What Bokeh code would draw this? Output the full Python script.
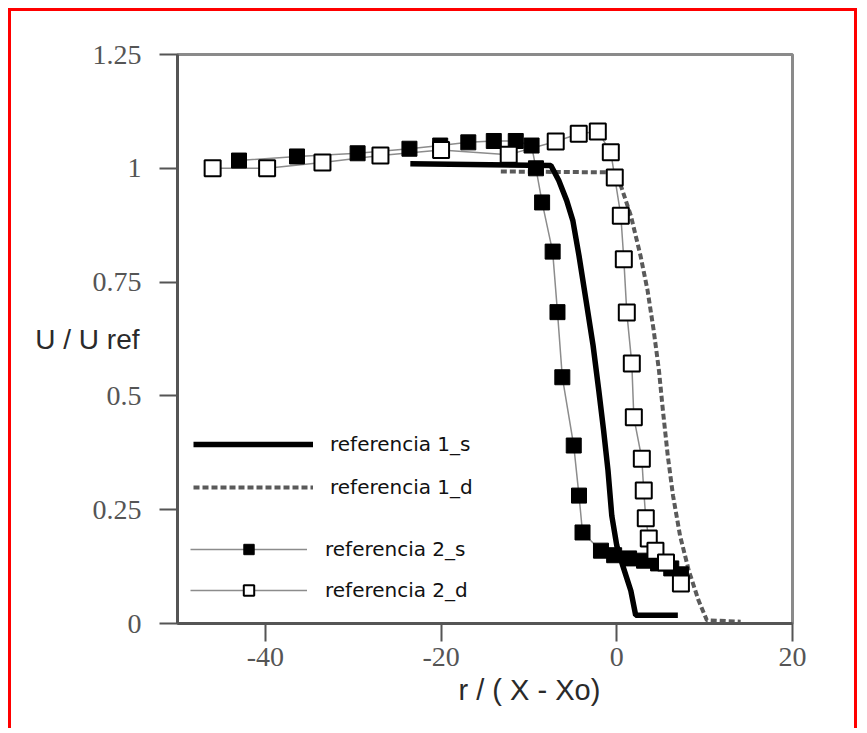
from bokeh.plotting import figure
from bokeh.models import FixedTicker, Legend, LegendItem, Range1d, Title
from bokeh.embed import file_html
from bokeh.resources import INLINE

# ---------------- data ----------------
ref1_s_x = [-23.5, -7.5, -6.6, -5.7, -5.0, -4.3, -3.5, -2.7, -2.05, -1.5, -1.0, -0.57, 0.0, 0.68, 1.6, 2.15, 6.95]
ref1_s_y = [1.01, 1.006, 0.973, 0.929, 0.885, 0.808, 0.71, 0.611, 0.512, 0.424, 0.336, 0.237, 0.171, 0.127, 0.072, 0.018, 0.018]

ref1_d_x = [-13.2, -0.46, 0.46, 1.6, 2.7, 3.5, 4.2, 4.8, 5.25, 5.8, 6.4, 7.2, 8.2, 9.3, 10.25, 14.1]
ref1_d_y = [0.993, 0.991, 0.962, 0.896, 0.808, 0.732, 0.644, 0.556, 0.468, 0.369, 0.281, 0.193, 0.116, 0.051, 0.007, 0.004]

ref2_s_x = [-43.0, -36.4, -29.5, -23.6, -20.1, -16.9, -14.0, -11.5, -9.7, -9.2, -8.5, -7.3,
            -6.75, -6.2, -4.9, -4.3, -3.9, -1.8, -0.3, 1.4, 3.1, 4.7, 6.2, 7.3]
ref2_s_y = [1.017, 1.026, 1.033, 1.043, 1.05, 1.057, 1.06, 1.06, 1.05, 1.0, 0.925, 0.817,
            0.684, 0.541, 0.391, 0.281, 0.20, 0.16, 0.15, 0.143, 0.138, 0.132, 0.121, 0.108]

ref2_d_x = [-46.0, -39.8, -33.5, -26.9, -20.0, -12.3, -6.95, -4.33, -2.16, -0.68, -0.23, 0.46,
            0.8, 1.14, 1.71, 1.94, 2.85, 3.07, 3.3, 3.64, 4.4, 5.6, 7.3]
ref2_d_y = [1.0, 1.0, 1.013, 1.028, 1.04, 1.03, 1.059, 1.076, 1.081, 1.035, 0.98, 0.896,
            0.80, 0.683, 0.571, 0.453, 0.362, 0.292, 0.231, 0.187, 0.16, 0.134, 0.088]

x_ticks = [-40, -20, 0, 20]
x_tick_labels = ["-40", "-20", "0", "20"]
y_ticks = [0, 0.25, 0.5, 0.75, 1, 1.25]
y_tick_labels = ["0", "0.25", "0.5", "0.75", "1", "1.25"]

labels = ["referencia 1_s", "referencia 1_d", "referencia 2_s", "referencia 2_d"]
x_title = "r / ( X - Xo)"
y_title = "U / U ref"

# ---------------- figure ----------------
p = figure(width=849, height=720, x_range=Range1d(-50, 20), y_range=Range1d(0, 1.25),
           output_backend="svg", toolbar_location=None,
           min_border_left=166, min_border_right=68, min_border_top=43, min_border_bottom=108)
p.margin = (8, 0, 0, 8)
p.styles = {"border-left": "3px solid #ff0000", "border-top": "3px solid #ff0000",
            "border-right": "3px solid #ff0000"}
p.background_fill_color = "white"
p.border_fill_color = "white"
p.xgrid.visible = False
p.ygrid.visible = False
p.outline_line_color = "#8a8a8a"
p.outline_line_width = 3

for ax in (p.xaxis[0], p.yaxis[0]):
    ax.axis_line_color = "#555555"
    ax.axis_line_width = 3
    ax.major_tick_line_color = "#555555"
    ax.major_tick_line_width = 2
    ax.major_tick_out = 18
    ax.major_tick_in = 0
    ax.minor_tick_out = 0
    ax.minor_tick_in = 0
    ax.major_label_text_font = "Liberation Serif"
    ax.major_label_text_font_size = "28px"
    ax.major_label_text_color = "#555555"

p.xaxis.ticker = FixedTicker(ticks=x_ticks)
p.xaxis.major_label_overrides = dict(zip(x_ticks, x_tick_labels))
p.xaxis.major_label_standoff = 6
p.yaxis.ticker = FixedTicker(ticks=y_ticks)
p.yaxis.major_label_overrides = dict(zip(y_ticks, y_tick_labels))
p.yaxis.major_label_standoff = 18

# horizontal y-axis title tucked between the tick labels
p.yaxis.axis_label = y_title
p.yaxis.axis_label_orientation = "horizontal"
p.yaxis.axis_label_standoff = -50
p.yaxis.axis_label_text_font = "Liberation Sans"
p.yaxis.axis_label_text_font_size = "28px"
p.yaxis.axis_label_text_font_style = "normal"
p.yaxis.axis_label_text_color = "#2a2a2a"

# x title, placed right of centre
p.add_layout(Title(text=x_title, align="left", offset=281, text_font="Liberation Sans",
                   text_font_size="29px", text_font_style="normal", text_color="#2a2a2a",
                   standoff=7), "below")

# ---------------- series ----------------
l2s = p.line(ref2_s_x, ref2_s_y, line_color="#8c8c8c", line_width=1.5)
l2d = p.line(ref2_d_x, ref2_d_y, line_color="#8c8c8c", line_width=1.5)
r1d = p.line(ref1_d_x, ref1_d_y, line_color="#5a5a5a", line_width=4, line_dash="6 3")
r1s = p.line(ref1_s_x, ref1_s_y, line_color="black", line_width=5.5)
m2s = p.scatter(ref2_s_x, ref2_s_y, marker="square", size=15, fill_color="black", line_color="black")
m2d = p.scatter(ref2_d_x, ref2_d_y, marker="square", size=16, fill_color="white",
                line_color="black", line_width=2)

# ---------------- legends ----------------
common = dict(label_text_font="DejaVu Sans", label_text_font_size="20px", label_text_color="#111111",
              glyph_height=26, label_height=26, padding=0, margin=0,
              border_line_alpha=0, background_fill_alpha=0)
leg1 = Legend(items=[LegendItem(label=labels[0], renderers=[r1s]),
                     LegendItem(label=labels[1], renderers=[r1d])],
              location=(16, 123), glyph_width=120, label_standoff=17, spacing=17, **common)
leg2 = Legend(items=[LegendItem(label=labels[2], renderers=[l2s, m2s]),
                     LegendItem(label=labels[3], renderers=[l2d, m2d])],
              location=(13, 20), glyph_width=117, label_standoff=18, spacing=15, **common)
p.add_layout(leg1, "center")
p.add_layout(leg2, "center")

open("out.html", "w").write(file_html(p, INLINE))
